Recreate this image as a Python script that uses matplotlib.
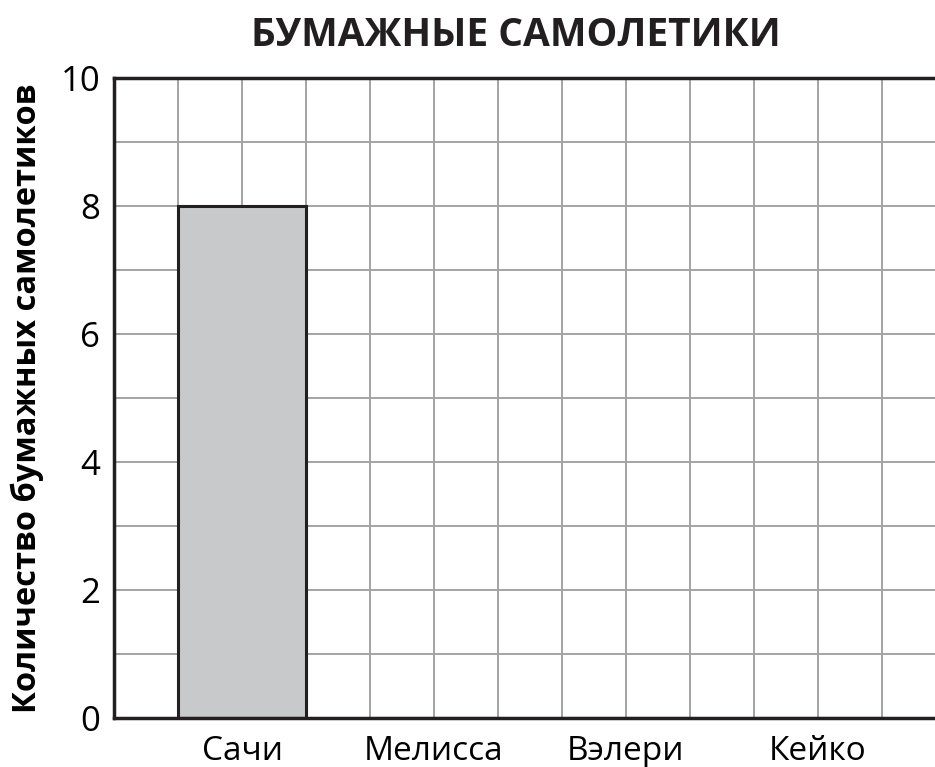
import matplotlib
matplotlib.use('Agg')
import matplotlib.pyplot as plt
import numpy as np

plt.rcParams['font.family'] = ['Open Sans', 'DejaVu Sans']

names = ['Сачи', 'Мелисса', 'Вэлери', 'Кейко']
planes = [8, 0, 0, 0]
yticks = [0, 2, 4, 6, 8, 10]

fig = plt.figure(figsize=(9.35, 7.67), dpi=100)
ax = fig.add_axes([114/935, 49/767, 832/935, 640/767])

pos = np.arange(len(names))*3 + 2
ax.bar(pos, planes, width=2, color='#c8c9cb', edgecolor='#231f20', linewidth=2.2, zorder=3)

ax.set_xlim(0, 13)
ax.set_ylim(0, 10)
# grid every cell
for gx in range(0, 14):
    ax.axvline(gx, color='#a3a3a3', linewidth=1.4, zorder=0)
for gy in range(0, 11):
    ax.axhline(gy, color='#a3a3a3', linewidth=1.4, zorder=0)
ax.set_xticks(pos)
ax.set_xticklabels(names, fontsize=24)
ax.set_yticks(yticks)
ax.set_yticklabels([str(v) for v in yticks], fontsize=25)
ax.tick_params(which='both', length=0)
ax.tick_params(axis='x', pad=12)
ax.tick_params(axis='y', pad=10)
for s in ['left', 'bottom', 'top']:
    ax.spines[s].set_linewidth(2.5)
    ax.spines[s].set_color('#231f20')
    ax.spines[s].set_zorder(4)
ax.spines['right'].set_visible(False)

ax.set_ylabel('Количество бумажных самолетиков', fontsize=23.5, fontweight='bold', labelpad=12)
fig.text(516/935, 1 - 35/767, 'БУМАЖНЫЕ САМОЛЕТИКИ', fontsize=28, fontweight='bold',
         ha='center', va='center', color='#231f20')

fig.savefig('out.png', dpi=100)
